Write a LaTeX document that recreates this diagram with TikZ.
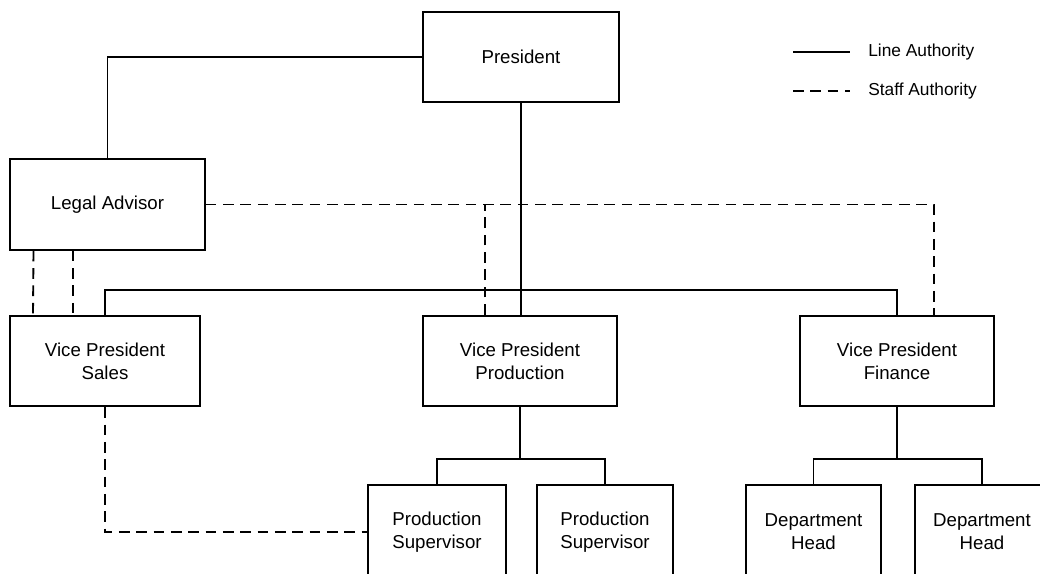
\documentclass[tikz,border=0pt]{standalone}
\usepackage{fontspec}
\setmainfont{Liberation Sans}
\usetikzlibrary{calc}

\begin{document}
\begin{tikzpicture}[x=0.75pt,y=-0.75pt,
  post/.style={draw,line width=1.4pt,minimum height=68pt,align=center,inner sep=0pt,font=\fontsize{14}{17}\selectfont},
  line/.style={line width=1.4pt},
  staff/.style={line width=1.4pt,dash pattern=on 8pt off 5pt},
  key/.style={anchor=west,inner sep=0pt,font=\fontsize{13}{15}\selectfont}]
\useasboundingbox (0,0) rectangle (1040,574);
\clip (0,0) rectangle (1040,574);
\fill [white] (0,0) rectangle (1040,574);

% boxes
\node (pres) [post,minimum width=147pt] at (521,57) {President};
\node (legal) [post,minimum width=146pt] at (107.5,204.5) {Legal Advisor};
\node (sales) [post,minimum width=142.5pt] at (105,361) {Vice President\\Sales};
\node (prod) [post,minimum width=146pt] at (520,361) {Vice President\\Production};
\node (fin) [post,minimum width=146pt] at (897,361) {Vice President\\Finance};
\node (sup1) [post,minimum width=103.5pt,minimum height=70pt] at (437,532) {Production\\Supervisor};
\node (sup2) [post,minimum width=102pt,minimum height=70pt] at (605,532) {Production\\Supervisor};
\node (head1) [post,minimum width=101pt,minimum height=70pt] at (813.5,532) {Department\\Head};
\node (head2) [post,minimum width=101pt,minimum height=70pt] at (982,532) {Department\\Head};

% legend
\coordinate (k1) at (793,52);
\coordinate (k2) at (850,52);
\coordinate (k3) at (793,91);
\coordinate (k4) at (850,91);
\node (linekey) [key] at (868,52) {Line Authority};
\node (staffkey) [key] at (868,91) {Staff Authority};
\draw [line] (k1) to (k2);
\draw [staff] (k3) to (k4);

% line authority
\coordinate (bus) at (0,290);
\coordinate (prodbus) at ($(prod.south)+(0,52)$);
\coordinate (finbus) at ($(fin.south)+(0,52)$);
\draw [line] (pres.west) -| (legal.north);
\draw [line] (pres.south) -- (pres.south |- prod.north);
\draw [line] (sales.north) -- (sales.north |- bus) -| (fin.north);
\draw [line] (prod.south) -- (prodbus);
\draw [line] (sup1.north) |- (prodbus) -| (sup2.north);
\draw [line] (fin.south) -- (finbus);
\draw [line] (head1.north) |- (finbus) -| (head2.north);

% staff authority
\coordinate (fintap) at ($(fin.north)+(37,0)$);
\coordinate (prodtap) at ($(prod.north)+(-35,0)$);
\draw [staff] (legal.east) -| (fintap);
\draw [staff] (prodtap) -- (prodtap |- legal.east);
\draw [staff] ($(legal.south)+(-74,0)$) -- ($(sales.north)+(-72,0)$);
\draw [staff] ($(legal.south)+(-34.5,0)$) -- ($(sales.north)+(-32,0)$);
\draw [staff] (sales.south) |- (sup1.west);
\end{tikzpicture}
\end{document}
